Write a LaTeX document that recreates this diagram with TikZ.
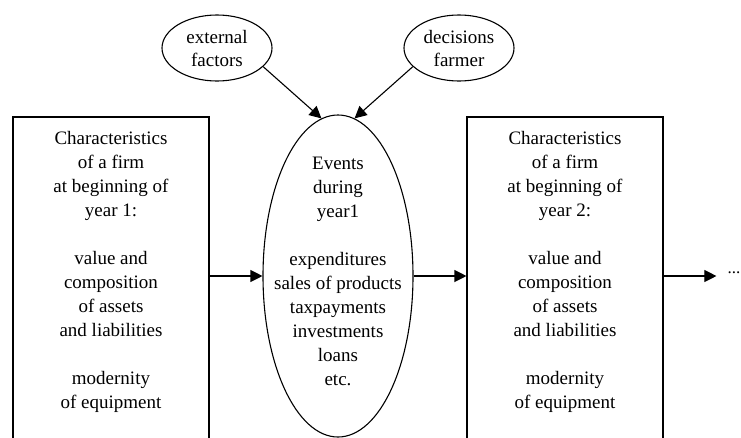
\documentclass[tikz,border=0pt]{standalone}
\usepackage{fontspec}
\setmainfont{Liberation Serif}
\newfontfamily\timesface{Liberation Serif}
\usetikzlibrary{shapes.geometric,arrows.meta}

\tikzset{
  firmbox/.style={draw, rectangle, line width=1.1pt, minimum width=196pt, minimum height=346pt, inner sep=0pt},
  eventell/.style={draw, ellipse, line width=1.1pt, minimum width=150pt, minimum height=322pt, inner sep=0pt},
  factorell/.style={draw, ellipse, line width=1.1pt, minimum width=110pt, minimum height=66pt, inner sep=0pt,
    align=center, font=\timesface\fontsize{19}{23}\selectfont},
  lbl/.style={align=center, inner sep=0pt, font=\timesface\fontsize{19}{24}\selectfont},
  arr/.style={-{Triangle[length=12pt,width=12pt]}, line width=1.1pt}
}

\begin{document}
\begin{tikzpicture}[x=1pt,y=-1pt]
  \useasboundingbox (0,0) rectangle (741,437);
  \fill[white] (0,0) rectangle (741,437);
  \clip (0,0) rectangle (741,437);

  % influences on the year's events
  \node[factorell] (ext) at (217,48) {external\\factors};
  \node[factorell] (dec) at (459,48) {decisions\\farmer};

  % state of the firm at the start of year 1
  \node[firmbox] (b1) at (111,290) {};
  \node[lbl] (t1) at (111,271.5) {Characteristics\\of a firm\\at beginning of\\year 1:\\[24pt]value and\\composition\\of assets\\and liabilities\\[24pt]modernity\\of equipment};

  % events during the year
  \node[eventell] (ev) at (338,276) {};
  \node[lbl] (tev) at (338,271.5) {Events\\during\\year1\\[24pt]expenditures\\sales of products\\taxpayments\\investments\\loans\\etc.};

  % state of the firm at the start of year 2
  \node[firmbox] (b2) at (565,290) {};
  \node[lbl] (t2) at (565,271.5) {Characteristics\\of a firm\\at beginning of\\year 2:\\[24pt]value and\\composition\\of assets\\and liabilities\\[24pt]modernity\\of equipment};

  \node[lbl, font=\timesface\fontsize{17}{20}\selectfont] (more) at (734,273) {...};

  % connectors
  \draw[arr] (ext.-22) -- (ev.96);
  \draw[arr] (dec.202) -- (ev.84);
  \draw[arr] (b1.east |- ev.center) -- (ev.west);
  \draw[arr] (ev.east) -- (b2.west |- ev.center);
  \draw[arr] (b2.east |- ev.center) -- ([xshift=-11pt]more.west |- ev.center);
\end{tikzpicture}
\end{document}
